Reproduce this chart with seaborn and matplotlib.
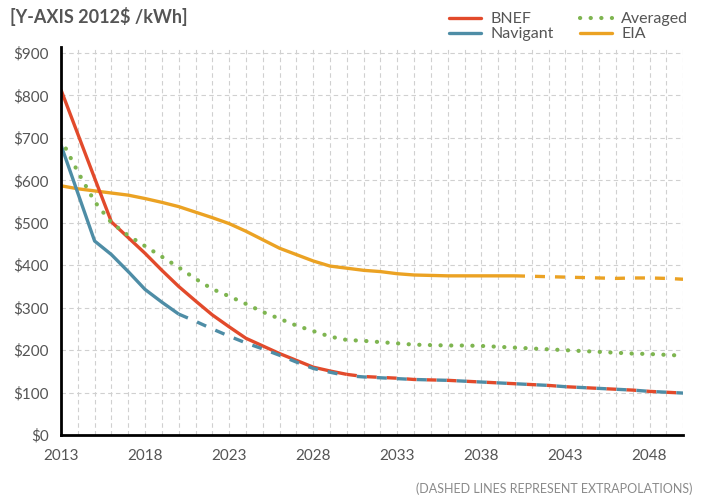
#battery pack cost outlook, 2013-2050
import pandas as pd
import matplotlib
matplotlib.use('Agg')
import matplotlib.pyplot as plt
from matplotlib.lines import Line2D
from matplotlib.ticker import MultipleLocator
import seaborn as sns

#values (2012$ per kWh)
years = list(range(2013, 2051))

bnef = [813, 709, 605, 502, 465, 428, 388, 350, 316, 283,
        255, 228, 210, 192, 176, 160, 151, 143, 138, 136,
        134, 131, 130, 129, 127, 125, 123, 121, 119, 117,
        114, 112, 110, 108, 106, 103, 101, 99]

navigant = [683, 570, 457, 425, 385, 343, 313, 285, 268, 250,
            233, 217, 203, 188, 172, 157, 148, 140, 137, 135,
            133, 131, 130, 129, 127, 125, 123, 121, 119, 117,
            114, 112, 110, 108, 106, 103, 101, 99]

averaged = [697, 620, 550, 500, 470, 445, 420, 395, 368, 344,
            327, 309, 290, 274, 258, 245, 232, 224, 222, 219,
            216, 213, 212, 211, 211, 210, 208, 206, 204, 202,
            200, 198, 196, 194, 192, 191, 189, 187]

eia = [587, 580, 575, 570, 565, 557, 548, 538, 525, 512,
       498, 480, 460, 440, 425, 410, 398, 393, 388, 385,
       380, 377, 376, 375, 375, 375, 375, 375, 374, 373,
       372, 371, 370, 369, 370, 370, 369, 367]

x_ticks = [2013, 2018, 2023, 2028, 2033, 2038, 2043, 2048]
y_ticks = list(range(0, 1000, 100))

#last year of real (non extrapolated) data per source
last_actual = {'BNEF': 2030, 'Navigant': 2020, 'EIA': 2040}

colors = {'BNEF': '#e24a2b', 'Navigant': '#4e8da6',
          'Averaged': '#7eb550', 'EIA': '#eba223'}

df = pd.DataFrame({'Year': years, 'BNEF': bnef, 'Navigant': navigant,
                   'Averaged': averaged, 'EIA': eia})

sns.set_style('white')
plt.rcParams['font.family'] = ['Lato', 'DejaVu Sans']

fig = plt.figure(figsize=(7.05, 4.99), dpi=100)
ax = fig.add_axes([0.0865, 0.128, 0.8825, 0.778])

lw = 2.4
dash = (3, 3)

def seg(name, y0, y1, style):
    part = df[(df['Year'] >= y0) & (df['Year'] <= y1)]
    sns.lineplot(data=part, x='Year', y=name, ax=ax, color=colors[name],
                 lw=lw, linestyle=style, solid_capstyle='butt')

#EIA: actual then extrapolated
seg('EIA', 2013, last_actual['EIA'], '-')
seg('EIA', last_actual['EIA'], 2050, (0, dash))

#BNEF and Navigant: dashes interleave after 2030, so start them at the same point
seg('BNEF', 2013, last_actual['BNEF'], '-')
seg('Navigant', 2013, last_actual['Navigant'], '-')
seg('Navigant', last_actual['Navigant'], last_actual['BNEF'], (0, dash))
seg('BNEF', last_actual['BNEF'], 2050, (0, dash))
seg('Navigant', last_actual['BNEF'], 2050, (3, dash))

sns.lineplot(data=df, x='Year', y='Averaged', ax=ax, color=colors['Averaged'],
             lw=3.0, linestyle=(0, (0.05, 2.5)), dash_capstyle='round')

ax.set_xlim(2013, 2050)
ax.set_ylim(0, 914)
ax.set_xticks(x_ticks)
ax.xaxis.set_minor_locator(MultipleLocator(1))
ax.set_yticks(y_ticks)
ax.set_yticklabels(['$' + str(v) for v in y_ticks])

ax.grid(which='both', axis='x', color='#d0d0d0', ls=(0, (4, 3)), lw=0.8)
ax.grid(which='major', axis='y', color='#d0d0d0', ls=(0, (4, 3)), lw=0.8)

for s in ['top', 'right']:
    ax.spines[s].set_visible(False)
for s in ['left', 'bottom']:
    ax.spines[s].set_color('black')
    ax.spines[s].set_linewidth(2)

ax.tick_params(axis='x', which='major', length=7, width=1.5, color='#333333',
               labelsize=11, labelcolor='#555555', pad=3)
ax.tick_params(axis='x', which='minor', length=4, width=1.2, color='#333333')
ax.tick_params(axis='y', length=5, width=1.5, color='#333333',
               labelsize=11, labelcolor='#555555', pad=4)
ax.set_xlabel('')
ax.set_ylabel('')

fig.text(0.014, 0.966, '[Y-AXIS 2012$ /kWh]', fontsize=13, color='#555555',
         fontweight='bold', va='center')
fig.text(0.982, 0.02, '(DASHED LINES REPRESENT EXTRAPOLATIONS)', fontsize=9,
         color='#8a8a8a', ha='right', va='center')

handles = [Line2D([], [], color=colors['BNEF'], lw=lw),
           Line2D([], [], color=colors['Navigant'], lw=lw),
           Line2D([], [], color=colors['Averaged'], lw=3.0,
                  linestyle=(0, (0.05, 2.5)), dash_capstyle='round'),
           Line2D([], [], color=colors['EIA'], lw=lw)]
labels = ['BNEF', 'Navigant', 'Averaged', 'EIA']
fig.legend(handles, labels, ncol=2, loc='upper right',
           bbox_to_anchor=(0.99, 0.995), frameon=False, fontsize=11.5,
           labelcolor='#555555', handlelength=2.0, handletextpad=0.6,
           columnspacing=1.6, labelspacing=0.05, borderaxespad=0.2)

fig.savefig('out.png', dpi=100)
